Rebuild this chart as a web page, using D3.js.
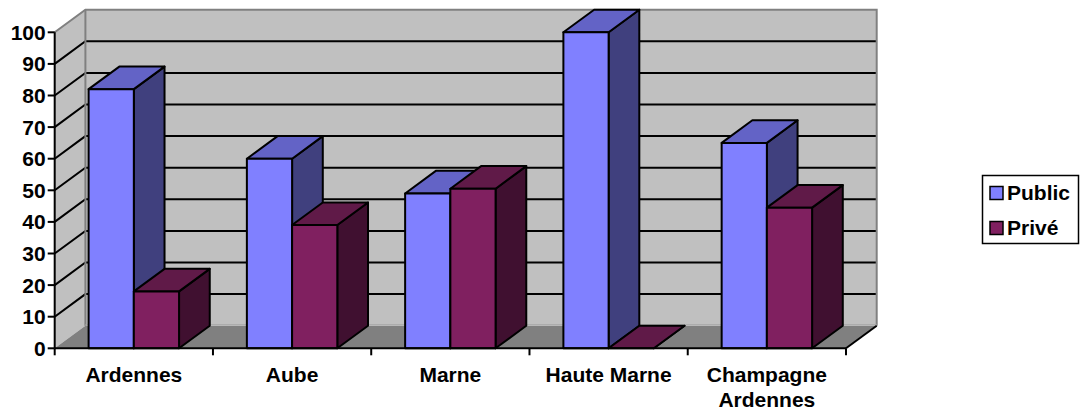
<!DOCTYPE html>
<html>
<head>
<meta charset="utf-8">
<script src="https://cdn.jsdelivr.net/npm/d3@7"></script>
<style>
  html, body { margin: 0; padding: 0; background: #ffffff; }
  svg { display: block; }
  text { font-family: "Liberation Sans", Arial, sans-serif; font-weight: bold; fill: #000; }
</style>
</head>
<body>
<svg id="chart" width="1084" height="413"></svg>
<script>
// Categories, series and values (share in %)
const categories = ["Ardennes", "Aube", "Marne", "Haute Marne", "Champagne Ardennes"];
const seriesNames = ["Public", "Privé"];
const publicValues = [82, 60, 49, 100, 65];
const priveValues = [18, 39, 50.5, 0, 44.5];
const yTicks = [0, 10, 20, 30, 40, 50, 60, 70, 80, 90, 100];

const seriesValues = [publicValues, priveValues];
const palette = {
  "Public": { front: "#8080ff", top: "#6363c6", side: "#40407e" },
  "Privé":  { front: "#802060", top: "#601a48", side: "#401030" }
};

const svg = d3.select("#chart");

// Plot geometry (front plane) and the depth offset of the 3D box
const X0 = 54.7, X1 = 846;
const DX = 30.7, DY = -22.6;

const y = d3.scaleLinear().domain([0, 100]).range([348.3, 32.3]);
const x = d3.scaleBand().domain(categories).range([X0, X1]).padding(0);
const gap = x.bandwidth() * 1.5 / 3.5 / 2;
const xs = d3.scaleBand().domain(seriesNames).range([gap, x.bandwidth() - gap]).padding(0);

const pts = arr => arr.map(p => p.join(",")).join(" ");
const yBase = y(0), yTop = y(100);

// Side wall (left)
svg.append("polygon")
  .attr("points", pts([[X0, yBase], [X0, yTop], [X0 + DX, yTop + DY], [X0 + DX, yBase + DY]]))
  .attr("fill", "#c0c0c0");
// Back wall
svg.append("polygon")
  .attr("points", pts([[X0 + DX, yBase + DY], [X0 + DX, yTop + DY], [X1 + DX, yTop + DY], [X1 + DX, yBase + DY]]))
  .attr("fill", "#c0c0c0");

// Gridlines on both walls
const gridVals = yTicks.filter(v => v > 0 && v < 100);
const grid = svg.append("g").attr("stroke", "#000").attr("stroke-width", 2).attr("fill", "none");
grid.selectAll("polyline").data(gridVals).join("polyline")
  .attr("points", v => pts([[X0, y(v)], [X0 + DX, y(v) + DY], [X1 + DX, y(v) + DY]]));

// Wall edges
const edges = svg.append("g").attr("stroke", "#808080").attr("stroke-width", 2).attr("fill", "none");
edges.append("polyline")
  .attr("points", pts([[X0, yTop], [X0 + DX, yTop + DY], [X1 + DX, yTop + DY], [X1 + DX, yBase + DY]]));
edges.append("line")
  .attr("x1", X0 + DX).attr("y1", yTop + DY).attr("x2", X0 + DX).attr("y2", yBase + DY);

// Floor
svg.append("polygon")
  .attr("points", pts([[X0, yBase], [X0 + DX, yBase + DY], [X1 + DX, yBase + DY], [X1, yBase]]))
  .attr("fill", "#808080");
svg.append("line")
  .attr("x1", X0 + DX).attr("y1", yBase + DY - 1).attr("x2", X1 + DX).attr("y2", yBase + DY - 1)
  .attr("stroke", "#a8a8a8").attr("stroke-width", 1);
svg.append("polyline")
  .attr("points", pts([[X1, yBase], [X1 + DX, yBase + DY]]))
  .attr("stroke", "#000").attr("stroke-width", 2).attr("fill", "none");

// Bars: left to right, each drawn as side, top, front faces
const bars = [];
categories.forEach((c, i) => {
  seriesNames.forEach((s, j) => {
    bars.push({ cat: c, series: s, value: seriesValues[j][i] });
  });
});
const barG = svg.append("g").attr("stroke", "#000").attr("stroke-width", 2).attr("stroke-linejoin", "round");
bars.forEach(d => {
  const xl = x(d.cat) + xs(d.series);
  const xr = xl + xs.bandwidth();
  const yt = y(d.value);
  const col = palette[d.series];
  barG.append("polygon")
    .attr("points", pts([[xr, yBase], [xr, yt], [xr + DX, yt + DY], [xr + DX, yBase + DY]]))
    .attr("fill", col.side);
  barG.append("polygon")
    .attr("points", pts([[xl, yt], [xl + DX, yt + DY], [xr + DX, yt + DY], [xr, yt]]))
    .attr("fill", col.top);
  barG.append("rect")
    .attr("x", xl).attr("y", yt).attr("width", xr - xl).attr("height", yBase - yt)
    .attr("fill", col.front);
});

// Value axis
const yAxis = svg.append("g").attr("stroke", "#000").attr("stroke-width", 2);
yAxis.append("line").attr("x1", X0).attr("x2", X0).attr("y1", yTop).attr("y2", yBase);
yAxis.selectAll("line.tick").data(yTicks).join("line").attr("class", "tick")
  .attr("x1", X0 - 7).attr("x2", X0).attr("y1", d => y(d)).attr("y2", d => y(d));
svg.append("g").selectAll("text").data(yTicks).join("text")
  .attr("x", X0 - 9).attr("y", d => y(d)).attr("dy", "0.36em")
  .attr("text-anchor", "end").attr("font-size", 21)
  .text(d => d);

// Category axis
const xAxis = svg.append("g").attr("stroke", "#000").attr("stroke-width", 2);
xAxis.append("line").attr("x1", X0).attr("x2", X1).attr("y1", yBase).attr("y2", yBase);
const bounds = categories.map(c => x(c)).concat([X1]);
xAxis.selectAll("line.tick").data(bounds).join("line").attr("class", "tick")
  .attr("x1", d => d).attr("x2", d => d).attr("y1", yBase).attr("y2", yBase + 7);

const catLabels = { "Champagne Ardennes": ["Champagne", "Ardennes"] };
categories.forEach(c => {
  const lines = catLabels[c] || [c];
  const t = svg.append("text")
    .attr("x", x(c) + x.bandwidth() / 2).attr("y", 382)
    .attr("text-anchor", "middle").attr("font-size", 21);
  lines.forEach((ln, k) => {
    t.append("tspan").attr("x", x(c) + x.bandwidth() / 2).attr("dy", k === 0 ? 0 : 25).text(ln);
  });
});

// Legend
const lg = svg.append("g");
lg.append("rect").attr("x", 982.5).attr("y", 175.5).attr("width", 96).attr("height", 68)
  .attr("fill", "#fff").attr("stroke", "#000").attr("stroke-width", 1.5);
seriesNames.forEach((s, k) => {
  const base = 199.5 + k * 35;
  lg.append("rect").attr("x", 990).attr("y", base - 13).attr("width", 13).attr("height", 13)
    .attr("fill", palette[s].front).attr("stroke", "#000").attr("stroke-width", 1.5);
  lg.append("text").attr("x", 1007).attr("y", base).attr("font-size", 21).text(s);
});
</script>
</body>
</html>
